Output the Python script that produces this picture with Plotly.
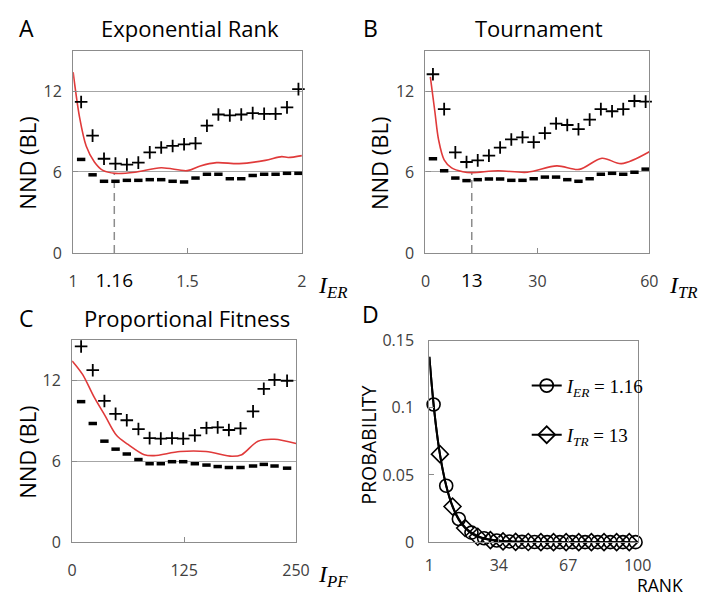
import plotly.graph_objects as go

# ---------------- data ----------------
# Panel A : Exponential Rank
er_x = [1.035, 1.085, 1.135, 1.185, 1.235, 1.285, 1.335, 1.385, 1.435, 1.485,
        1.535, 1.585, 1.635, 1.685, 1.735, 1.785, 1.835, 1.885, 1.935, 1.985]
er_plus = [11.19, 8.69, 6.98, 6.62, 6.55, 6.69, 7.45, 7.81, 7.93, 8.05,
           8.12, 9.43, 10.26, 10.19, 10.26, 10.36, 10.31, 10.31, 10.79, 12.14]
er_dash = [6.93, 5.79, 5.31, 5.31, 5.38, 5.38, 5.43, 5.43, 5.31, 5.26,
           5.55, 5.83, 5.83, 5.50, 5.50, 5.74, 5.83, 5.83, 5.90, 5.90]
er_line_x = [1.0, 1.028, 1.057, 1.093, 1.128, 1.185, 1.27, 1.385, 1.499, 1.556,
             1.627, 1.726, 1.84, 1.912, 1.94, 2.0]
er_line_y = [13.4, 10.07, 7.93, 6.74, 6.14, 5.90, 5.98, 6.31, 6.10, 6.45,
             6.69, 6.62, 6.86, 7.14, 7.07, 7.21]
er_opt_pos = 1.18
er_opt_label = "1.16"
er_ticks = [1, er_opt_pos, 1.5, 2]

# Panel B : Tournament
tr_x = [2, 5, 8, 11, 14, 17, 20, 23, 26, 29, 32, 35, 38, 41, 44, 47, 50, 53, 56, 59]
tr_plus = [13.24, 10.66, 7.45, 6.74, 6.86, 7.21, 7.81, 8.41, 8.57, 8.21,
           8.88, 9.59, 9.48, 9.17, 9.88, 10.66, 10.50, 10.66, 11.26, 11.21]
tr_dash = [6.98, 6.09, 5.55, 5.36, 5.43, 5.48, 5.48, 5.38, 5.38, 5.50,
           5.62, 5.62, 5.43, 5.31, 5.50, 5.83, 5.90, 5.83, 5.98, 6.21]
tr_line_x = [1.3, 2.5, 3.5, 5.0, 7.0, 10.0, 12.5, 19.5, 27.3, 35.2, 41.2, 47.3, 52.5, 60]
tr_line_y = [13.05, 10.5, 8.4, 6.9, 6.3, 6.02, 5.95, 6.09, 5.98, 6.45, 6.19, 7.02, 6.62, 7.5]
tr_opt_pos = 12.4
tr_opt_label = "13"
tr_ticks = [0, tr_opt_pos, 30, 60]

# Panel C : Proportional Fitness
pf_x = [10, 23, 36, 48.5, 61, 74, 86.5, 99, 111.5, 124,
        137, 150, 162.5, 175, 188, 202, 214, 226, 240]
pf_plus = [14.50, 12.74, 10.46, 9.50, 9.03, 8.38, 7.71, 7.67, 7.71, 7.67,
           7.91, 8.46, 8.50, 8.31, 8.43, 9.69, 11.36, 12.03, 11.96]
pf_dash = [10.41, 8.79, 7.48, 6.89, 6.53, 6.12, 5.81, 5.81, 5.96, 5.96,
           5.81, 5.71, 5.60, 5.53, 5.53, 5.64, 5.76, 5.64, 5.48]
pf_line_x = [0, 11.6, 24.4, 37, 49.7, 62.4, 80.5, 91.4, 120.5, 149.5, 178.5, 189.4, 207.5, 225.7, 250]
pf_line_y = [13.43, 12.43, 10.76, 9.34, 7.90, 7.24, 6.48, 6.41, 6.71, 6.71, 6.36, 6.48, 7.48, 7.62, 7.31]

# Panel D : selection probability vs rank
d_er_rank = [1, 2, 3, 4, 5, 6, 7, 8, 9, 10, 11, 12, 13, 14, 15, 16, 17, 18, 19, 20,
             21, 23, 25, 27, 30, 33, 36, 40, 45, 50, 60, 70, 80, 90, 100]
d_er_prob = [0.138, 0.119, 0.1025, 0.088, 0.076, 0.0655, 0.0565, 0.0488, 0.042, 0.0362,
             0.0312, 0.027, 0.0232, 0.020, 0.0172, 0.0148, 0.0128, 0.011, 0.0095, 0.0082,
             0.0071, 0.0053, 0.0039, 0.0029, 0.0019, 0.0012, 0.0008, 0.0004, 0.0002, 0.0001,
             0, 0, 0, 0, 0]
d_er_mrank = [3, 9, 15, 21, 27, 33, 39, 45, 51, 57, 63, 69, 75, 81, 87, 93, 99]
d_er_mprob = [0.1025, 0.042, 0.0172, 0.0071, 0.0029, 0.0012, 0.0005, 0.0002, 0.0001,
              0, 0, 0, 0, 0, 0, 0, 0]
d_tr_rank = [1, 3, 6, 9, 12, 15, 18, 21, 24, 30, 36, 42, 50, 60, 70, 80, 90, 96]
d_tr_prob = [0.138, 0.1025, 0.0655, 0.042, 0.0265, 0.0165, 0.0105, 0.0065, 0.004,
             0.0015, 0.0006, 0.0002, 0.0001, 0, 0, 0, 0, 0]
d_tr_mrank = [6, 12, 18, 24, 30, 36, 42, 48, 54, 60, 66, 72, 78, 84, 90, 96]
d_tr_mprob = [0.0655, 0.0265, 0.0105, 0.004, 0.0015, 0.0006, 0.0002, 0.0001,
              0, 0, 0, 0, 0, 0, 0, 0]

# ---------------- styling ----------------
W, H = 713, 610
SANS = "Open Sans"
SERIF = "Liberation Serif"
FRAME = "#8c8c8c"
GRID = "#a6a6a6"
TICKC = "#404040"
RED = "#e03a3a"

def px_dom(a, b, total):
    return [a / total, b / total]

def py_dom(top, bottom):
    return [1 - bottom / H, 1 - top / H]

fig = go.Figure()

def add_panel(xa, ya, xs, plus, dash, lx, ly):
    fig.add_trace(go.Scatter(x=lx, y=ly, mode="lines", xaxis=xa, yaxis=ya,
                             line=dict(color=RED, width=1.6, shape="spline", smoothing=0.9),
                             showlegend=False, hoverinfo="skip"))
    fig.add_trace(go.Scatter(x=xs, y=plus, mode="markers", xaxis=xa, yaxis=ya,
                             marker=dict(symbol="cross-thin", size=9, color="black",
                                         line=dict(color="black", width=1.8)),
                             showlegend=False, cliponaxis=False))
    fig.add_trace(go.Scatter(x=xs, y=dash, mode="markers", xaxis=xa, yaxis=ya,
                             marker=dict(symbol="line-ew", size=6, color="black",
                                         line=dict(color="black", width=3.5)),
                             showlegend=False, cliponaxis=False))

add_panel("x", "y", er_x, er_plus, er_dash, er_line_x, er_line_y)
add_panel("x2", "y2", tr_x, tr_plus, tr_dash, tr_line_x, tr_line_y)
add_panel("x3", "y3", pf_x, pf_plus, pf_dash, pf_line_x, pf_line_y)

# Panel D
fig.add_trace(go.Scatter(x=d_tr_rank, y=d_tr_prob, mode="lines", xaxis="x4", yaxis="y4",
                         line=dict(color="black", width=2, shape="spline", smoothing=0.6),
                         showlegend=False, hoverinfo="skip"))
fig.add_trace(go.Scatter(x=d_er_rank, y=d_er_prob, mode="lines", xaxis="x4", yaxis="y4",
                         line=dict(color="black", width=2, shape="spline", smoothing=0.6),
                         showlegend=False, hoverinfo="skip"))
fig.add_trace(go.Scatter(x=d_er_mrank, y=d_er_mprob, mode="markers", xaxis="x4", yaxis="y4",
                         marker=dict(symbol="circle-open", size=13, color="black",
                                     line=dict(color="black", width=1.6)),
                         showlegend=False, cliponaxis=False))
fig.add_trace(go.Scatter(x=d_tr_mrank, y=d_tr_mprob, mode="markers", xaxis="x4", yaxis="y4",
                         marker=dict(symbol="diamond-open", size=13, color="black",
                                     line=dict(color="black", width=1.6)),
                         showlegend=False, cliponaxis=False))
# legend entries
fig.add_trace(go.Scatter(x=[None], y=[None], mode="lines+markers", xaxis="x4", yaxis="y4",
                         name="<i>I</i><sub><i>ER</i></sub> = 1.16", legend="legend",
                         line=dict(color="black", width=2),
                         marker=dict(symbol="circle-open", size=13, color="black",
                                     line=dict(color="black", width=1.8))))
fig.add_trace(go.Scatter(x=[None], y=[None], mode="lines+markers", xaxis="x4", yaxis="y4",
                         name="<i>I</i><sub><i>TR</i></sub> = 13", legend="legend2",
                         line=dict(color="black", width=2),
                         marker=dict(symbol="diamond-open", size=13, color="black",
                                     line=dict(color="black", width=1.8))))

def big_tick(t):
    return '<span style="font-size:19px;color:black">' + t + '</span>'

def axis_common():
    return dict(showline=True, linecolor=FRAME, linewidth=1.2, mirror=True,
                ticks="inside", ticklen=5, tickcolor=FRAME, tickwidth=1.2,
                zeroline=False, tickfont=dict(family=SANS, size=16, color=TICKC),
                fixedrange=True)

def xaxis_cfg(dom, anchor, rng, tickvals, ticktext, standoff=14):
    d = axis_common()
    d.update(domain=dom, anchor=anchor, range=rng, tickmode="array",
             tickvals=tickvals, ticktext=ticktext, showgrid=False,
             ticklabelstandoff=standoff)
    return d

def yaxis_cfg(dom, anchor, rng, tickvals, ticktext, grid=True, standoff=7):
    d = axis_common()
    d.update(domain=dom, anchor=anchor, range=rng, tickmode="array",
             tickvals=tickvals, ticktext=ticktext, showgrid=grid,
             gridcolor=GRID, gridwidth=1, ticklabelstandoff=standoff)
    return d

top_dom = py_dom(41, 251)
bot_dom = py_dom(341, 551)

fig.update_layout(
    xaxis=xaxis_cfg(px_dom(70, 305, W), "y", [1, 2], er_ticks,
                    ["1", big_tick(er_opt_label), "1.5", "2"]),
    yaxis=yaxis_cfg(top_dom, "x", [0, 15], [0, 6, 12], ["0", "6", "12"]),
    xaxis2=xaxis_cfg(px_dom(432, 662, W), "y2", [0, 60], tr_ticks,
                     ["0", big_tick(tr_opt_label), "30", "60"]),
    yaxis2=yaxis_cfg(top_dom, "x2", [0, 15], [0, 6, 12], ["0", "6", "12"]),
    xaxis3=xaxis_cfg(px_dom(69, 299, W), "y3", [0, 250], [0, 125, 250], ["0", "125", "250"]),
    yaxis3=yaxis_cfg(bot_dom, "x3", [0, 15], [0, 6, 12], ["0", "6", "12"]),
    xaxis4=xaxis_cfg(px_dom(436, 650, W), "y4", [1, 100], [1, 34, 67, 100],
                     ["1", "34", "67", "100"], standoff=9),
    yaxis4=yaxis_cfg(py_dom(342, 551), "x4", [0, 0.15], [0, 0.05, 0.1, 0.15],
                     ["0", "0.05", "0.1", "0.15"], grid=False, standoff=11),
)

# dashed optimum markers
fig.add_shape(type="line", xref="x", yref="y", x0=er_opt_pos, x1=er_opt_pos, y0=0, y1=5.9,
              line=dict(color="#8c8c8c", width=1.5, dash="8px,5px"), layer="below")
fig.add_shape(type="line", xref="x2", yref="y2", x0=tr_opt_pos, x1=tr_opt_pos, y0=0, y1=5.95,
              line=dict(color="#8c8c8c", width=1.5, dash="8px,5px"), layer="below")

ann = []
def text(x, y, t, size, family=SANS, angle=0, color="black", yanchor="middle"):
    ann.append(dict(x=x / W, y=1 - y / H, xref="paper", yref="paper", text=t,
                    showarrow=False, textangle=angle, xanchor="center", yanchor=yanchor,
                    font=dict(family=family, size=size, color=color)))

# panel letters and titles
text(22, 18, "A", 23); text(375, 18, "B", 23); text(22, 318, "C", 23); text(375, 314, "D", 23)
text(190, 18, "Exponential Rank", 22)
text(549, 18, "Tournament", 22)
text(187, 318, "Proportional Fitness", 22)
# y titles
text(23, 158, "NND (BL)", 22, angle=-90)
text(385, 158, "NND (BL)", 22, angle=-90)
text(23, 458, "NND (BL)", 22, angle=-90)
text(374, 451, "PROBABILITY", 19.5, angle=-90)
# x titles
text(337, 286, "<i>I</i><sub><i>ER</i></sub>", 24, family=SERIF)
text(697, 286, "<i>I</i><sub><i>TR</i></sub>", 24, family=SERIF)
text(337, 586, "<i>I</i><sub><i>PF</i></sub>", 24, family=SERIF)
text(673, 610, "RANK", 17.5, yanchor="bottom")

fig.update_layout(
    annotations=ann,
    width=W, height=H, margin=dict(l=0, r=0, t=0, b=0),
    paper_bgcolor="white", plot_bgcolor="white",
    legend=dict(x=536 / W, y=1 - 369 / H, xanchor="left", yanchor="top",
                bgcolor="rgba(0,0,0,0)", font=dict(family=SERIF, size=19, color="black")),
    legend2=dict(x=536 / W, y=1 - 420 / H, xanchor="left", yanchor="top",
                 bgcolor="rgba(0,0,0,0)", font=dict(family=SERIF, size=19, color="black")),
)

fig.write_html("out.html")
